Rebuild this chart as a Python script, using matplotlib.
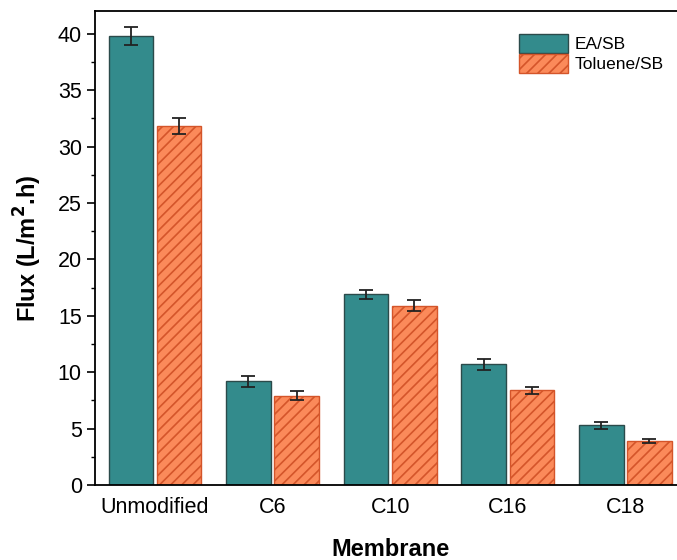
import numpy as np
import matplotlib
matplotlib.use("Agg")
import matplotlib.pyplot as plt

plt.rcParams['font.family'] = ['Liberation Sans', 'DejaVu Sans']
plt.rcParams['hatch.linewidth'] = 1.2

membranes = ["Unmodified", "C6", "C10", "C16", "C18"]
ea_flux = [39.8, 9.2, 16.9, 10.7, 5.3]
ea_err = [0.8, 0.5, 0.4, 0.5, 0.3]
tol_flux = [31.8, 7.9, 15.9, 8.4, 3.9]
tol_err = [0.7, 0.4, 0.5, 0.3, 0.2]

fig = plt.figure(figsize=(6.77, 5.6), dpi=100)
ax = fig.add_axes([0.1403, 0.134, 0.872, 0.846])

x = np.arange(len(membranes))
w = 0.38
off = 0.205

ax.bar(x - off, ea_flux, w, color="#338b8c", edgecolor="#2b4a4a", linewidth=1.0,
       label="EA/SB", zorder=2)
ax.bar(x + off, tol_flux, w, color="#fb8a5a", edgecolor="#d4552a", linewidth=1.0,
       hatch="///", label="Toluene/SB", zorder=2)
ax.errorbar(x - off, ea_flux, yerr=ea_err, fmt="none", ecolor="#222222",
            elinewidth=1.3, capsize=5, capthick=1.3, zorder=3)
ax.errorbar(x + off, tol_flux, yerr=tol_err, fmt="none", ecolor="#222222",
            elinewidth=1.3, capsize=5, capthick=1.3, zorder=3)

ax.set_xlim(-0.51, 4.51)
ax.set_ylim(0, 42)
ax.set_xticks(x)
ax.set_xticklabels(membranes, fontsize=15.5)
ax.tick_params(axis="x", length=0, pad=9)
ax.set_yticks(np.arange(0, 41, 5))
ax.set_yticks(np.arange(2.5, 41, 5), minor=True)
ax.tick_params(axis="y", which="major", direction="out", length=6, width=1.2,
               labelsize=15.5)
ax.tick_params(axis="y", which="minor", direction="out", length=3, width=1.0)
for s in ax.spines.values():
    s.set_linewidth(1.3)

ax.set_ylabel("Flux (L/m$^{\\mathbf{2}}$.h)", fontsize=17, fontweight="bold",
              labelpad=10)
ax.set_xlabel("Membrane", fontsize=17, fontweight="bold")
ax.xaxis.set_label_coords(0.5, -0.112)

ax.legend(loc="upper right", bbox_to_anchor=(0.99, 0.985), frameon=False,
          fontsize=12.5, handlelength=2.8, handleheight=1.3, handletextpad=0.4,
          labelspacing=0.05)

fig.savefig("out.png", dpi=100)
